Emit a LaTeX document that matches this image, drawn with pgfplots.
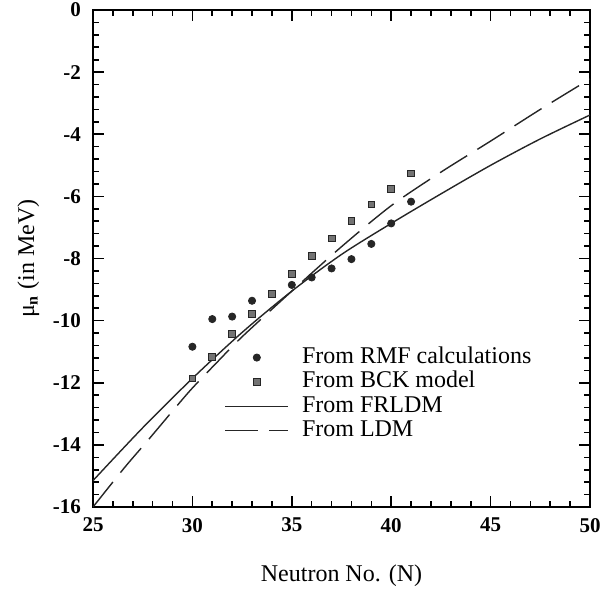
\documentclass[border=0pt]{standalone}
\usepackage{fontspec}
\setmainfont{Liberation Serif}
\usepackage{pgfplots}
\pgfplotsset{compat=1.18}

% RMF calculations
\pgfplotstableread{
N    mu
30  -10.84
31  -9.95
32  -9.87
33  -9.36
35  -8.85
36  -8.61
37  -8.32
38  -8.02
39  -7.53
40  -6.87
41  -6.17
}\rmf
% BCK model
\pgfplotstableread{
N    mu
30  -11.86
31  -11.16
32  -10.44
33  -9.79
34  -9.14
35  -8.50
36  -7.92
37  -7.35
38  -6.79
39  -6.26
40  -5.76
41  -5.26
}\bck
% FRLDM
\pgfplotstableread{
N     mu
25    -15.15
27.5  -13.45
30    -11.86
32.5  -10.38
35    -9.05
37.5  -7.87
40    -6.87
42.5  -5.92
45    -5.00
47.5  -4.15
50    -3.38
}\frldm
% LDM
\pgfplotstableread{
N     mu
25    -16.00
26.6  -14.72
27.7  -13.90
29.2  -12.76
30    -12.17
31.3  -11.30
32.5  -10.52
35    -9.05
37.5  -7.62
40    -6.30
42.5  -5.22
45    -4.22
47.5  -3.20
50    -2.22
}\ldm

\begin{document}
\begin{tikzpicture}
\begin{axis}[
  scale only axis,
  width=248.5pt, height=248.5pt,
  xmin=25, xmax=50, ymin=-16, ymax=0,
  xtick={25,30,...,50}, ytick={-16,-14,...,0},
  minor x tick num=4, minor y tick num=4,
  tick align=inside,
  major tick length=5.5pt, minor tick length=3pt,
  tick style={black, line width=0.8pt},
  axis line style={line width=0.8pt},
  /pgf/number format/assume math mode=true,
  ticklabel style={font=\bfseries\fontsize{10.5}{12}\selectfont},
  yticklabel style={xshift=-2.5pt},
  xticklabel style={yshift=-2pt},
  xlabel={Neutron No. (N)},
  ylabel={μ\textsubscript{\textbf{n}} (in MeV)},
  label style={font=\fontsize{12}{14}\selectfont},
  xlabel style={yshift=-9.5pt},
  legend cell align=left,
  legend style={draw=none, fill=none, at={(rel axis cs:0.264,0.326)}, anchor=north west,
    inner sep=0pt, column sep=6.5pt,
    nodes={inner sep=0pt, text height=9pt, text depth=3.2pt},
    font=\fontsize{12}{14}\selectfont},
  legend image code/.code={\draw[mark repeat=2,mark phase=2,#1] plot coordinates {(0pt,0pt) (15.75pt,0pt) (31.5pt,0pt)};},
]
\addplot[only marks, mark=*, mark size=1.8pt, black!85] table[x=N,y=mu] {\rmf};
\addlegendentry{From RMF calculations}
\addplot[only marks, mark=square*, mark size=1.7pt, draw=black!85, fill=black!55] table[x=N,y=mu] {\bck};
\addlegendentry{From BCK model}
\addplot[smooth, line width=0.7pt, black!85] table[x=N,y=mu] {\frldm};
\addlegendentry{From FRLDM}
\addplot[smooth, line width=0.7pt, black!85, dash pattern=on 16pt off 6pt] table[x=N,y=mu] {\ldm};
\addlegendentry{From LDM}
\end{axis}
\pgfresetboundingbox
\path[use as bounding box] ([xshift=-46.5pt,yshift=-41pt]current axis.south west) rectangle ([xshift=6pt,yshift=5pt]current axis.north east);
\end{tikzpicture}
\end{document}
